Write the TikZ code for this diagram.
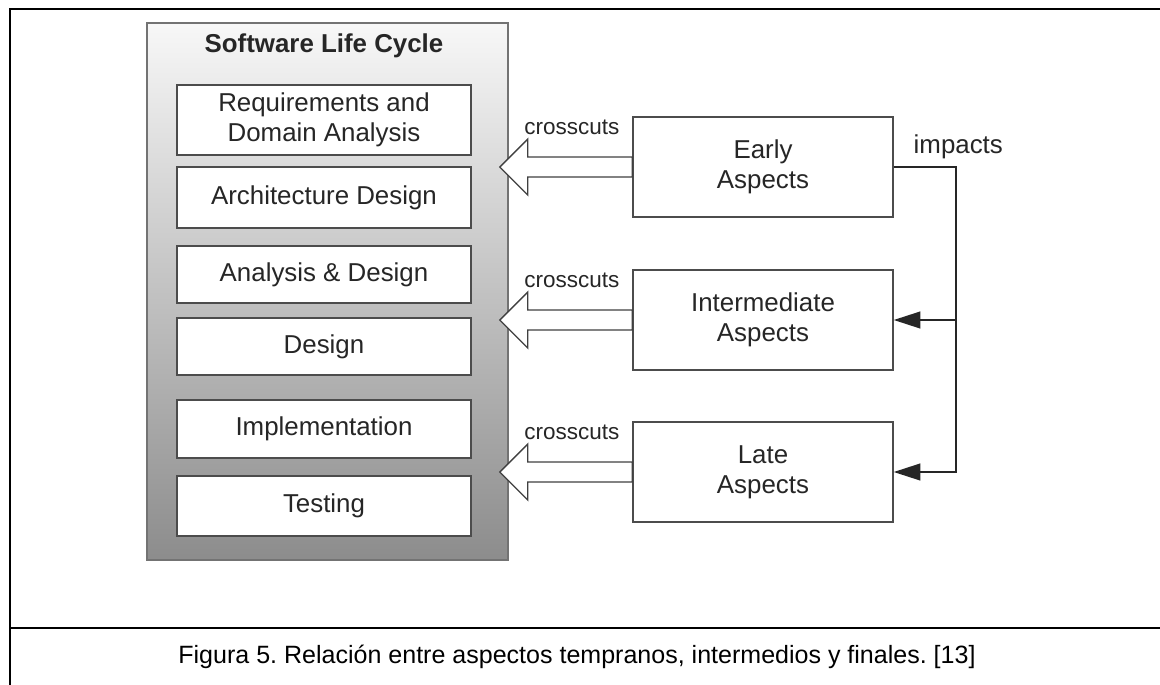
\documentclass[tikz,border=0pt]{standalone}
\usepackage{fontspec}
\setmainfont{Liberation Sans}
\usetikzlibrary{arrows.meta,calc}
\frenchspacing

\tikzset{
  boxtext/.style={text=black!85, align=center, font=\fontsize{18.4}{21.5}\selectfont},
  cyclebox/.style={draw=black!55, line width=1pt, top color=black!3, bottom color=black!45,
    minimum width=9.025cm, minimum height=13.425cm},
  phase/.style={boxtext, draw=black!70, line width=1pt, fill=white, minimum width=7.35cm},
  aspect/.style={boxtext, draw=black!70, line width=1pt, fill=white,
    minimum width=6.5cm, minimum height=2.5cm},
  hollow/.style={draw=black!75, line width=1pt, fill=white, line join=miter},
  impact/.style={draw=black!85, line width=1.2pt},
  note/.style={text=black!85, font=\fontsize{16}{18}\selectfont}
}

\begin{document}
\begin{tikzpicture}[x=0.025cm, y=-0.025cm, >={Triangle[length=19pt,width=12pt]}]
    \useasboundingbox (0,0) rectangle (1160,685);

    % page frame
    \draw[line width=2.1pt] (10,685) -- (10,9) -- (1160,9);
    \draw[line width=2.1pt] (10,628) -- (1160,628);

    \node[cyclebox] (lifecycle) at (327.5,291.5) {};
    \node[boxtext, font=\fontsize{18.4}{21.5}\selectfont\bfseries] (title) at (324,46) {Software Life Cycle};

    \node[phase, minimum height=1.75cm] (req) at (324,120) {Requirements and\\Domain Analysis};
    \node[phase, minimum height=1.525cm] (arch) at (324,197.5) {Architecture Design};
    \node[phase, minimum height=1.425cm] (anal) at (324,274.5) {Analysis \& Design};
    \node[phase, minimum height=1.425cm] (des) at (324,346.5) {Design};
    \node[phase, minimum height=1.45cm] (impl) at (324,429) {Implementation};
    \node[phase, minimum height=1.5cm] (test) at (324,506) {Testing};

    \node[aspect] (early) at (763,167) {Early\\Aspects};
    \node[aspect] (inter) at (763,320) {Intermediate\\Aspects};
    \node[aspect] (late) at (763,472) {Late\\Aspects};

    % crosscuts arrows
    \foreach \a in {early,inter,late} {
        \draw[hollow] ($(\a.west)+(0,-10)$) -- ($(lifecycle.east |- \a.west)+(19,-10)$)
            -- ++(0,-18) -- ++(-28,28) -- ++(28,28) -- ++(0,-18)
            -- ($(\a.west)+(0,10)$) -- cycle;
        \node[note, anchor=east] at ($(\a.west)+(-8,-40)$) {crosscuts};
    }

    % impacts
    \draw[impact, ->] (early.east) -- ++(62,0) coordinate (bend) |- (late.east);
    \draw[impact, ->] (bend |- inter.east) -- (inter.east);
    \node[boxtext, anchor=west] at ($(early.east)+(15,-20)$) {impacts};

    \node[font=\fontsize{17.8}{20}\selectfont] (caption) at (577,657)
        {Figura 5. Relación entre aspectos tempranos, intermedios y finales. [13]};
\end{tikzpicture}
\end{document}
